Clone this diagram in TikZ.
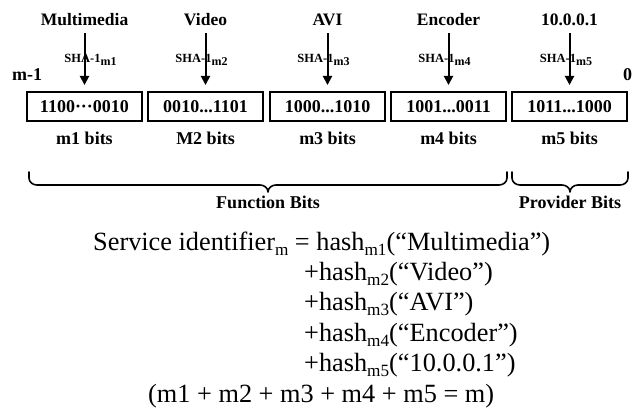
\documentclass[tikz,border=0pt]{standalone}
\usepackage{fontspec}
\setmainfont{Liberation Serif}
\usetikzlibrary{arrows.meta}
\newcommand\shasub[1]{\raisebox{-2.5pt}{\fontsize{12}{12}\selectfont #1}}
\newcommand\eqsub[1]{\raisebox{-5pt}{\fontsize{17.2}{17.2}\selectfont #1}}
\begin{document}
\begin{tikzpicture}[x=1pt,y=-1pt,
  bitbox/.style={draw, line width=2pt, minimum width=115pt, minimum height=28pt, inner sep=0pt, font=\fontsize{18}{18}\selectfont\bfseries},
  toplab/.style={font=\fontsize{17.5}{18}\selectfont\bfseries, inner sep=0pt, anchor=base},
  shalab/.style={font=\fontsize{12.5}{13}\selectfont\bfseries, inner sep=0pt, anchor=base},
  bitlab/.style={font=\fontsize{18}{18}\selectfont\bfseries, inner sep=0pt, anchor=base},
  hasharrow/.style={line width=2pt, -{Triangle[width=9pt,length=9pt]}, shorten <=7pt, shorten >=6.5pt},
  bracepath/.style={line width=1.6pt, line join=round, line cap=round},
  eqline/.style={font=\fontsize{26.3}{26.3}\selectfont, inner sep=0pt, anchor=base west}]
\useasboundingbox (0,0) rectangle (636,409);

% top labels
\node[toplab] (t1) at (84.5,26) {Multimedia};
\node[toplab] (t2) at (205.5,26) {Video};
\node[toplab] (t3) at (327.5,26) {AVI};
\node[toplab] (t4) at (448.5,26) {Encoder};
\node[toplab] (t5) at (569.5,26) {10.0.0.1};

% SHA labels
\node[shalab] (s1) at (90.5,63) {SHA-1\shasub{m1}};
\node[shalab] (s2) at (201.5,63) {SHA-1\shasub{m2}};
\node[shalab] (s3) at (323.5,63) {SHA-1\shasub{m3}};
\node[shalab] (s4) at (444.5,63) {SHA-1\shasub{m4}};
\node[shalab] (s5) at (566,63) {SHA-1\shasub{m5}};

% end labels
\node[bitlab, anchor=base west] (lm) at (12,81) {m-1};
\node[bitlab, anchor=base west] (l0) at (623,81) {0};

% boxes
\node[bitbox] (b1) at (84.5,106.5) {1100···0010};
\node[bitbox] (b2) at (205.5,106.5) {0010...1101};
\node[bitbox] (b3) at (327.5,106.5) {1000...1010};
\node[bitbox] (b4) at (448.5,106.5) {1001...0011};
\node[bitbox] (b5) at (569.5,106.5) {1011...1000};

% arrows
\draw[hasharrow] (b1.north |- t1.south) -- (b1.north);
\draw[hasharrow] (b2.north |- t2.south) -- (b2.north);
\draw[hasharrow] (b3.north |- t3.south) -- (b3.north);
\draw[hasharrow] (b4.north |- t4.south) -- (b4.north);
\draw[hasharrow] (b5.north |- t5.south) -- (b5.north);

% bit labels
\node[bitlab] (m1) at (84.5,144) {m1 bits};
\node[bitlab] (m2) at (205.5,144) {M2 bits};
\node[bitlab] (m3) at (327.5,144) {m3 bits};
\node[bitlab] (m4) at (448.5,144) {m4 bits};
\node[bitlab] (m5) at (569.5,144) {m5 bits};

% braces
\draw[bracepath] (29,172) -- (29,178) to[out=-90,in=180] (37,185) -- (260,185)
  to[out=0,in=90] (268,192) to[out=90,in=180] (276,185) -- (499,185)
  to[out=0,in=-90] (507,178) -- (507,172);
\draw[bracepath] (512,172) -- (512,178) to[out=-90,in=180] (520,185) -- (562,185)
  to[out=0,in=90] (570,192) to[out=90,in=180] (578,185) -- (620,185)
  to[out=0,in=-90] (628,178) -- (628,172);
\node[bitlab] (fb) at (268,208) {Function Bits};
\node[bitlab] (pb) at (570,208) {Provider Bits};

% equation
\node[eqline] (e1) at (93,250) {Service identifier\eqsub{m} = hash\eqsub{m1}(“Multimedia”)};
\node[eqline] (e2) at (304,280.4) {+hash\eqsub{m2}(“Video”)};
\node[eqline] (e3) at (304,310.8) {+hash\eqsub{m3}(“AVI”)};
\node[eqline] (e4) at (304,341.2) {+hash\eqsub{m4}(“Encoder”)};
\node[eqline] (e5) at (304,371.6) {+hash\eqsub{m5}(“10.0.0.1”)};
\node[eqline] (e6) at (148,402) {(m1 + m2 + m3 + m4 + m5 = m)};
\end{tikzpicture}
\end{document}
